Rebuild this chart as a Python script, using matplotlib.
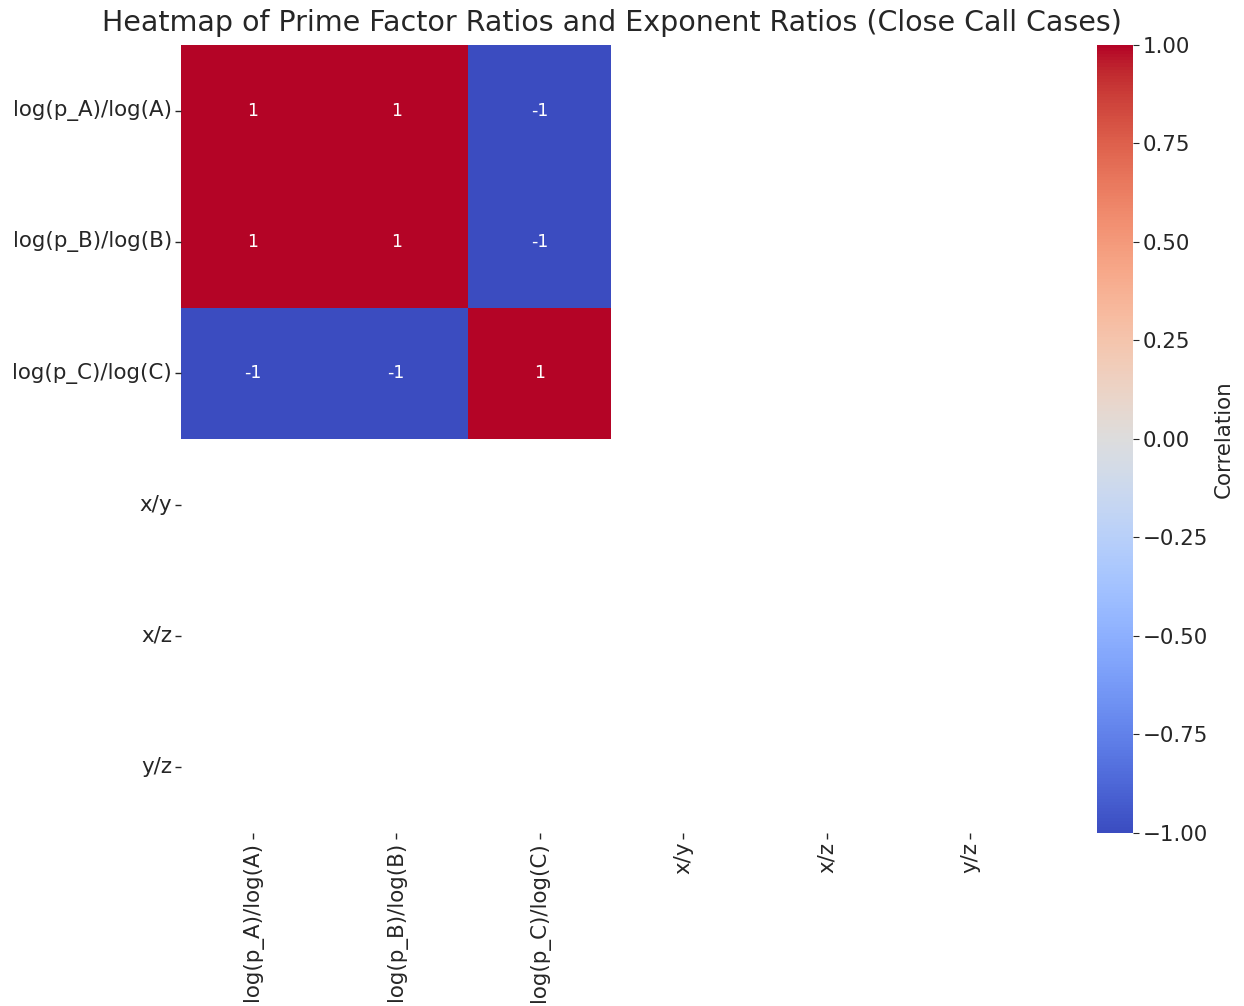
import numpy as np
import pandas as pd
import matplotlib
matplotlib.use("Agg")
import matplotlib.pyplot as plt
import seaborn as sns

# Ratio variables compared in the correlation matrix
labels = ["log(p_A)/log(A)", "log(p_B)/log(B)", "log(p_C)/log(C)", "x/y", "x/z", "y/z"]

# Correlation values per row (NaN where the ratio was constant)
row_pA = [1, 1, -1, np.nan, np.nan, np.nan]
row_pB = [1, 1, -1, np.nan, np.nan, np.nan]
row_pC = [-1, -1, 1, np.nan, np.nan, np.nan]
row_xy = [np.nan] * 6
row_xz = [np.nan] * 6
row_yz = [np.nan] * 6

corr = pd.DataFrame([row_pA, row_pB, row_pC, row_xy, row_xz, row_yz],
                    index=labels, columns=labels)

text_color = "#262626"
plt.rcParams.update({
    "text.color": text_color,
    "axes.labelcolor": text_color,
    "xtick.color": text_color,
    "ytick.color": text_color,
})

fig = plt.figure(figsize=(12.44, 10.06), dpi=100)
ax = fig.add_axes([0.1455, 0.1720, 0.6921, 0.7833])
cax = fig.add_axes([0.8818, 0.1720, 0.0289, 0.7833])

sns.heatmap(corr, annot=True, cmap="coolwarm", vmin=-1, vmax=1, ax=ax,
            cbar_ax=cax, cbar_kws={"label": "Correlation"},
            annot_kws={"fontsize": 12.5})

ax.set_title("Heatmap of Prime Factor Ratios and Exponent Ratios (Close Call Cases)",
             fontsize=20.5, pad=10)
ax.tick_params(axis="both", labelsize=15.4, length=4, width=1, pad=2.5)
ax.set_yticklabels(labels, rotation=0)
ax.set_xticklabels(labels, rotation=90)
cax.tick_params(labelsize=15.4, length=4, pad=3)
cax.yaxis.label.set_size(15.4)

fig.savefig("out.png", dpi=100)
